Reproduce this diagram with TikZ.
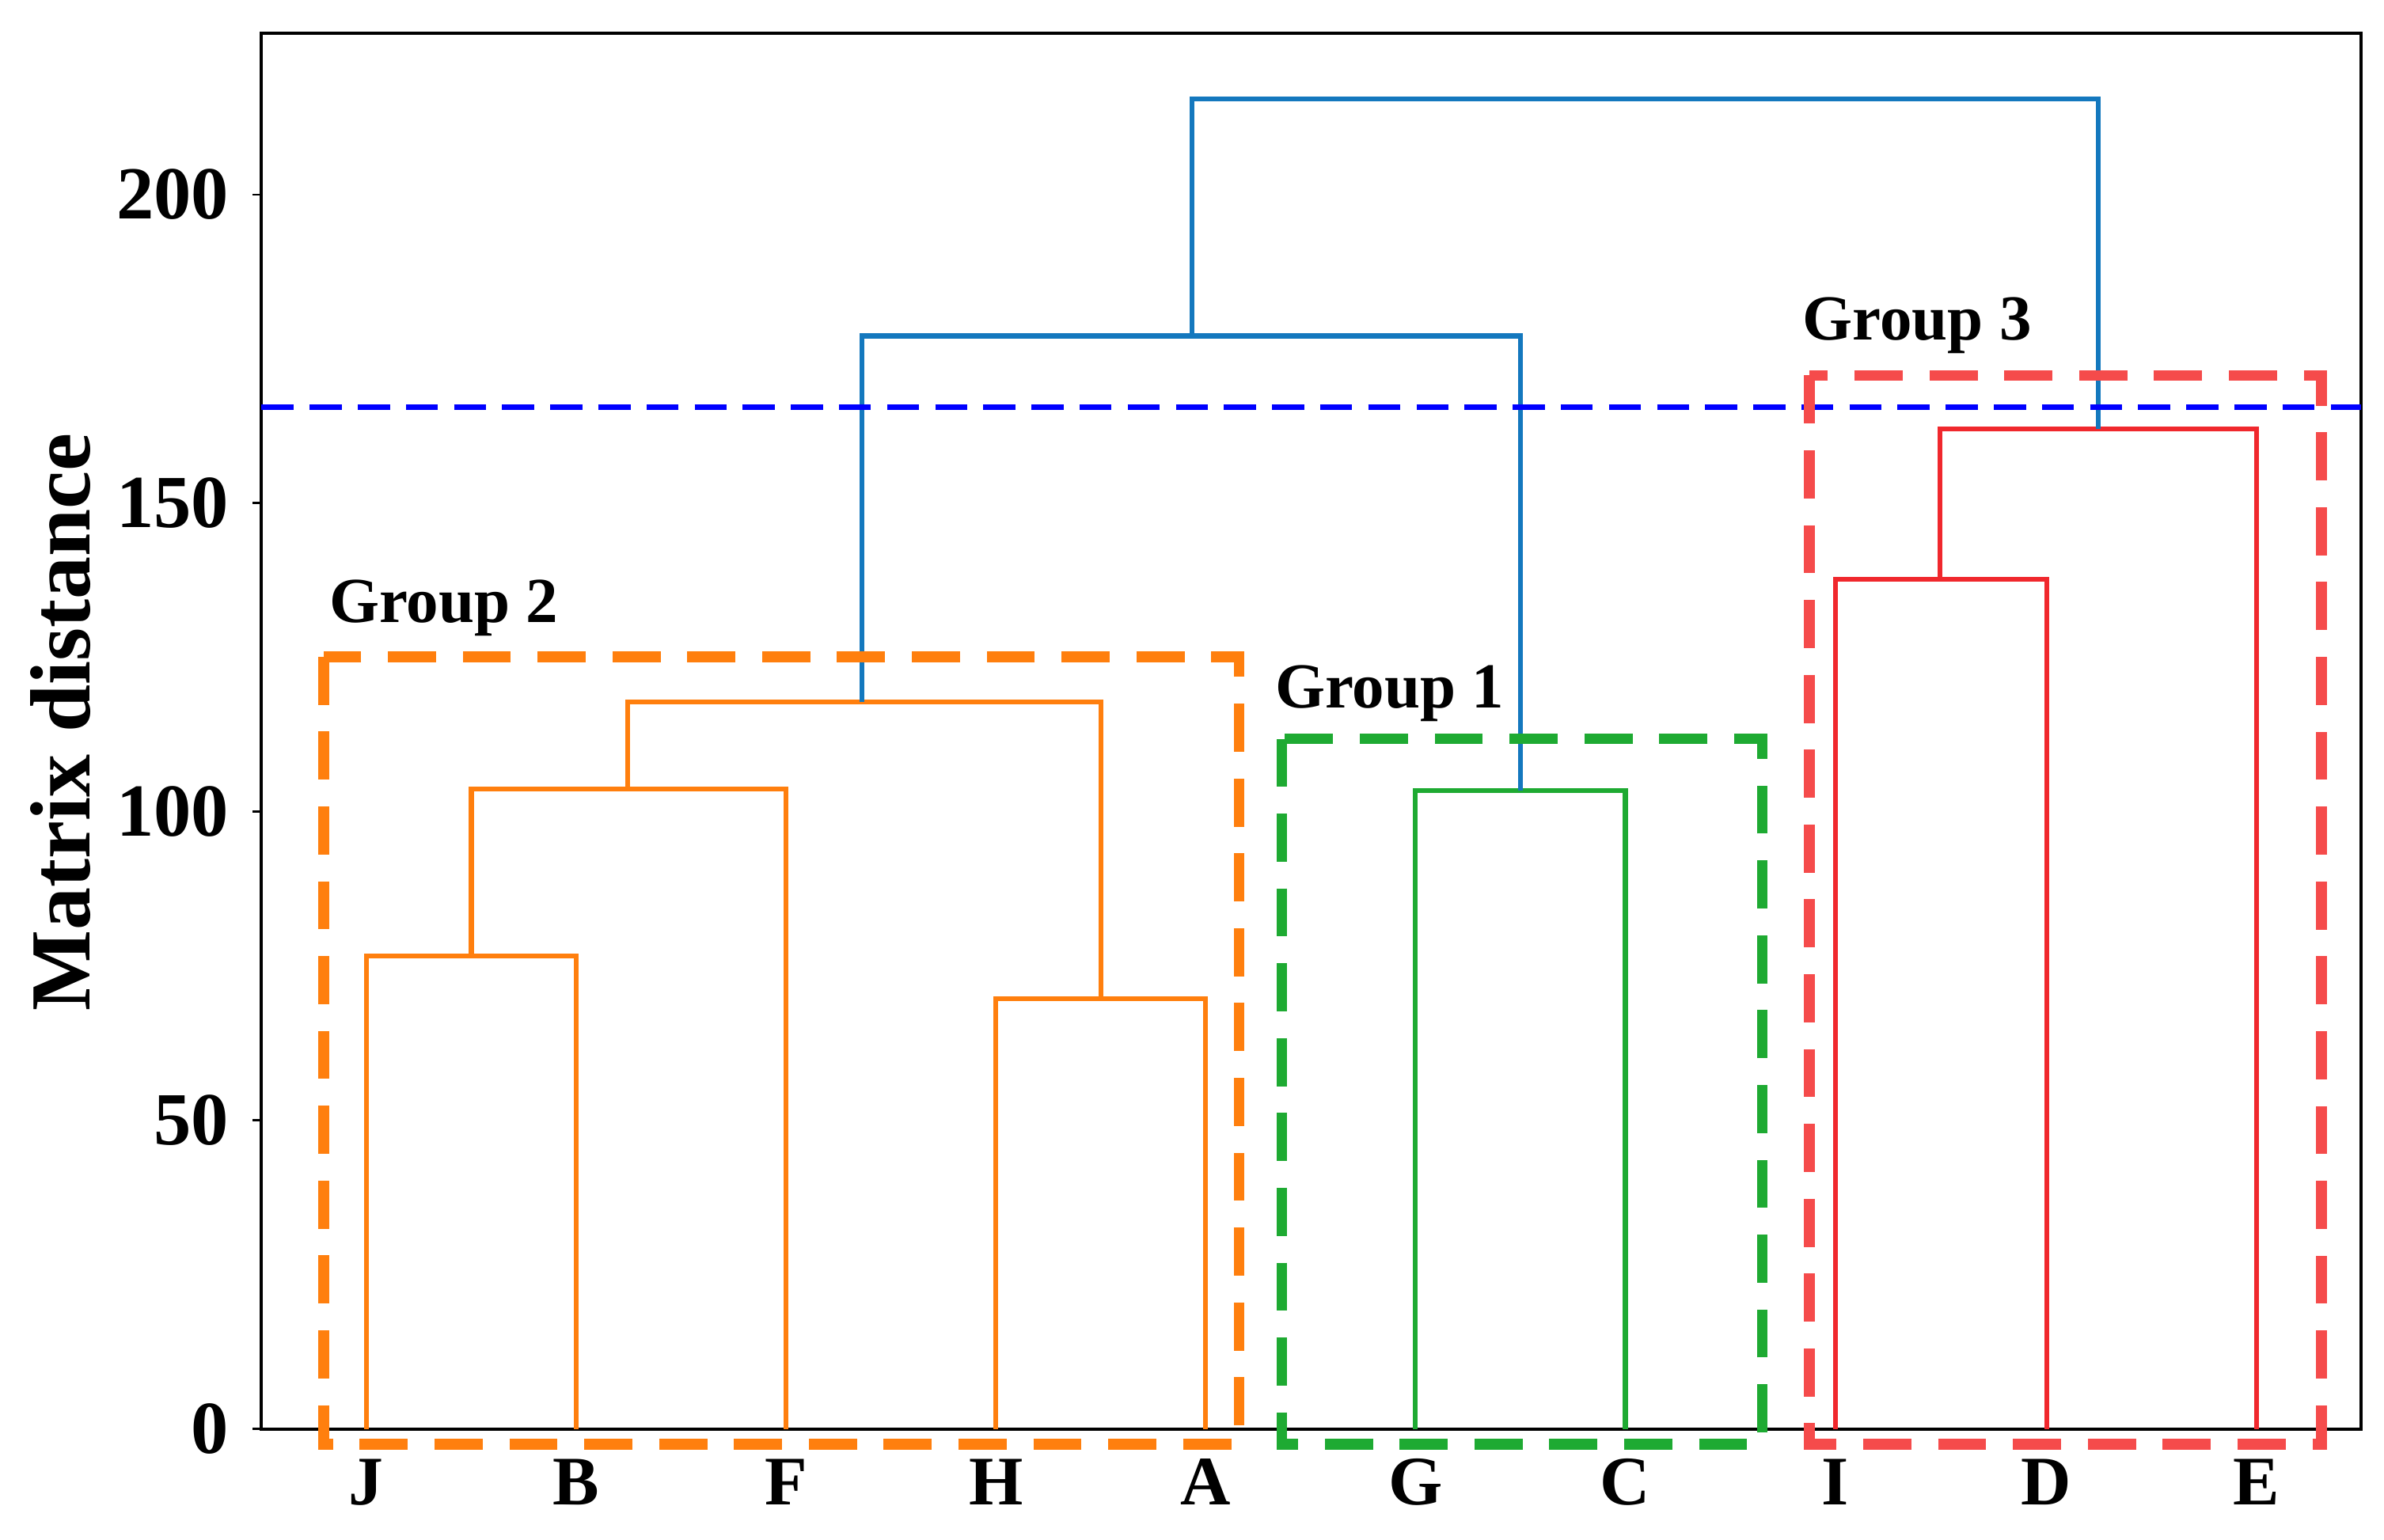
\documentclass[tikz,border=0pt]{standalone}
\usepackage{fontspec}
\setmainfont{Liberation Serif}
\begin{document}
\begin{tikzpicture}[x=0.01cm,y=-0.01cm,
  lbl/.style={font=\bfseries\fontsize{13pt}{15pt}\selectfont},
  tick/.style={font=\bfseries\fontsize{14pt}{16pt}\selectfont,anchor=east},
  glabel/.style={font=\bfseries\fontsize{12pt}{14pt}\selectfont},
  den/.style={line width=0.9pt},
  gbox/.style={line width=2pt,dash pattern=on 9pt off 5pt}]
\definecolor{corg}{RGB}{255,127,14}
\definecolor{cgrn}{RGB}{30,170,50}
\definecolor{cred}{RGB}{240,40,45}
\definecolor{cblu}{RGB}{20,120,190}
\definecolor{bred}{RGB}{245,75,75}
\useasboundingbox (0,0) rectangle (1568,1013);
% axes box
\draw[line width=0.6pt] (172,22) rectangle (1553,940);
\foreach \v/\y in {0/940,50/737,100/534,150/331,200/128}{
  \draw (172,\y) -- (166,\y);
  \node[tick] at (163,\y) {\v};}
\node[lbl,rotate=90,font=\bfseries\fontsize{16pt}{18pt}\selectfont] (ylab) at (40,475) {Matrix distance};
% leaves
\foreach \n/\x in {J/241,B/379,F/517,H/655,A/793,G/931,C/1069,I/1207,D/1346,E/1484}{
  \coordinate (\n) at (\x,940);
  \node[lbl] (l\n) at (\x,975) {\n};}
% orange cluster
\draw[den,corg] (J) |- (310,629) -| (B);
\draw[den,corg] (H) |- (724,657) -| (A);
\draw[den,corg] (310,629) |- (413,519) -| (F);
\draw[den,corg] (413,519) |- (567,462) -| (724,657);
\draw[den,corg] (567,462) -- (413,462);
% green
\draw[den,cgrn] (G) |- (1000,520) -| (C);
% red
\draw[den,cred] (I) |- (1276,381) -| (D);
\draw[den,cred] (1276,381) |- (1380,282) -| (E);
% blue
\draw[den,cblu] (567,462) |- (784,221) -| (1000,520);
\draw[den,cblu] (784,221) |- (1380,65) -- (1380,282);
% cut line
\draw[blue,line width=1pt,dash pattern=on 6pt off 3pt] (172,268) -- (1553,268);
% group boxes
\draw[gbox,corg] (213,432) rectangle (815,950);
\draw[gbox,cgrn] (843,486) rectangle (1159,950);
\draw[gbox,bred] (1190,247) rectangle (1527,950);
\node[glabel] (g2) at (292,400) {Group 2};
\node[glabel] (g1) at (914,456) {Group 1};
\node[glabel] (g3) at (1261,214) {Group 3};
\end{tikzpicture}
\end{document}
